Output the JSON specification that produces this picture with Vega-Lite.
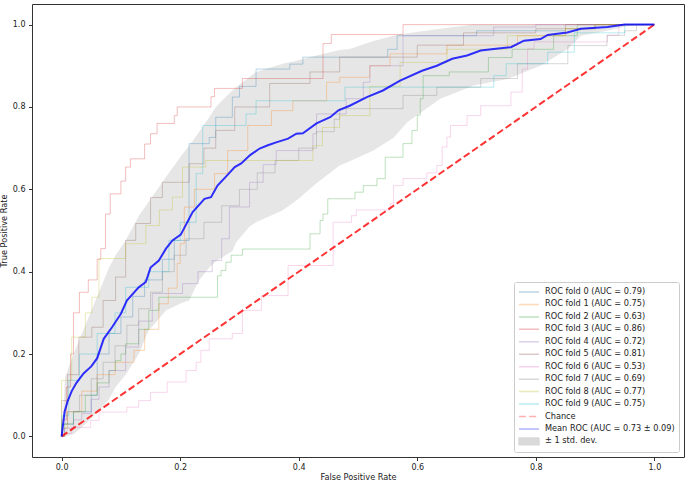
{
  "$schema": "https://vega.github.io/schema/vega-lite/v6.json",
  "autosize": {"type": "none"},
  "padding": {"left": 32, "top": 4, "right": 1, "bottom": 26},
  "width": 652,
  "height": 453,
  "background": "white",
  "config": {
    "view": {"stroke": "#333333", "strokeWidth": 1},
    "font": "DejaVu Sans",
    "axis": {"grid": false, "domain": false, "tickColor": "#333333", "tickSize": 3.5, "labelFontSize": 8, "labelColor": "#222222", "titleFontSize": 8.2, "titleFontWeight": "normal", "titleColor": "#222222", "labelFont": "DejaVu Sans", "titleFont": "DejaVu Sans"}
  },
  "datasets": {
    "band": [
      {"x": 0, "u": 0, "l": 0},
      {"x": 0.006, "u": 0.144, "l": 0},
      {"x": 0.02, "u": 0.2, "l": 0.005},
      {"x": 0.04, "u": 0.27, "l": 0.03},
      {"x": 0.063, "u": 0.35, "l": 0.063},
      {"x": 0.08, "u": 0.41, "l": 0.09},
      {"x": 0.091, "u": 0.44, "l": 0.12},
      {"x": 0.108, "u": 0.476, "l": 0.15},
      {"x": 0.13, "u": 0.535, "l": 0.2},
      {"x": 0.147, "u": 0.57, "l": 0.257},
      {"x": 0.176, "u": 0.63, "l": 0.306},
      {"x": 0.204, "u": 0.686, "l": 0.325},
      {"x": 0.215, "u": 0.705, "l": 0.33},
      {"x": 0.232, "u": 0.74, "l": 0.379},
      {"x": 0.249, "u": 0.775, "l": 0.41},
      {"x": 0.26, "u": 0.8, "l": 0.425},
      {"x": 0.288, "u": 0.84, "l": 0.45},
      {"x": 0.294, "u": 0.848, "l": 0.47},
      {"x": 0.317, "u": 0.873, "l": 0.51},
      {"x": 0.328, "u": 0.885, "l": 0.52},
      {"x": 0.373, "u": 0.905, "l": 0.549},
      {"x": 0.396, "u": 0.912, "l": 0.573},
      {"x": 0.43, "u": 0.925, "l": 0.615},
      {"x": 0.469, "u": 0.938, "l": 0.658},
      {"x": 0.486, "u": 0.941, "l": 0.668},
      {"x": 0.526, "u": 0.96, "l": 0.694},
      {"x": 0.56, "u": 0.973, "l": 0.725},
      {"x": 0.566, "u": 0.975, "l": 0.735},
      {"x": 0.583, "u": 0.979, "l": 0.763},
      {"x": 0.639, "u": 0.99, "l": 0.82},
      {"x": 0.695, "u": 1, "l": 0.852},
      {"x": 0.752, "u": 1, "l": 0.868},
      {"x": 0.808, "u": 1, "l": 0.9},
      {"x": 0.854, "u": 1, "l": 0.941},
      {"x": 0.876, "u": 1, "l": 0.973},
      {"x": 0.92, "u": 1, "l": 0.985},
      {"x": 0.944, "u": 1, "l": 0.993},
      {"x": 0.97, "u": 1, "l": 1},
      {"x": 1, "u": 1, "l": 1}
    ],
    "mean": [
      {"x": 0, "y": 0}, {"x": 0.005, "y": 0.06}, {"x": 0.01, "y": 0.085}, {"x": 0.017, "y": 0.11}, {"x": 0.025, "y": 0.13},
      {"x": 0.037, "y": 0.153}, {"x": 0.05, "y": 0.17}, {"x": 0.06, "y": 0.19}, {"x": 0.071, "y": 0.237}, {"x": 0.085, "y": 0.265},
      {"x": 0.1, "y": 0.298}, {"x": 0.11, "y": 0.33}, {"x": 0.13, "y": 0.362}, {"x": 0.142, "y": 0.375}, {"x": 0.15, "y": 0.41},
      {"x": 0.164, "y": 0.427}, {"x": 0.176, "y": 0.456}, {"x": 0.187, "y": 0.476}, {"x": 0.201, "y": 0.49}, {"x": 0.221, "y": 0.545},
      {"x": 0.241, "y": 0.577}, {"x": 0.252, "y": 0.581}, {"x": 0.263, "y": 0.609}, {"x": 0.28, "y": 0.635}, {"x": 0.292, "y": 0.654},
      {"x": 0.303, "y": 0.663}, {"x": 0.318, "y": 0.683}, {"x": 0.334, "y": 0.699}, {"x": 0.348, "y": 0.707}, {"x": 0.362, "y": 0.714},
      {"x": 0.382, "y": 0.723}, {"x": 0.396, "y": 0.735}, {"x": 0.407, "y": 0.736}, {"x": 0.43, "y": 0.76}, {"x": 0.453, "y": 0.775},
      {"x": 0.467, "y": 0.792}, {"x": 0.486, "y": 0.803}, {"x": 0.515, "y": 0.824}, {"x": 0.542, "y": 0.84}, {"x": 0.571, "y": 0.864},
      {"x": 0.608, "y": 0.888}, {"x": 0.633, "y": 0.9}, {"x": 0.659, "y": 0.917}, {"x": 0.684, "y": 0.925}, {"x": 0.707, "y": 0.937},
      {"x": 0.729, "y": 0.941}, {"x": 0.758, "y": 0.945}, {"x": 0.78, "y": 0.961}, {"x": 0.808, "y": 0.965}, {"x": 0.82, "y": 0.975},
      {"x": 0.853, "y": 0.981}, {"x": 0.876, "y": 0.99}, {"x": 0.921, "y": 0.994}, {"x": 0.95, "y": 1}, {"x": 1, "y": 1}
    ],
    "chance": [{"x": 0, "y": 0}, {"x": 1, "y": 1}],
    "folds": [
      {"f": "ROC fold 0 (AUC = 0.79)", "x": 0, "y": 0}, {"f": "ROC fold 0 (AUC = 0.79)", "x": 0, "y": 0.03}, {"f": "ROC fold 0 (AUC = 0.79)", "x": 0.02, "y": 0.06}, {"f": "ROC fold 0 (AUC = 0.79)", "x": 0.05, "y": 0.1}, {"f": "ROC fold 0 (AUC = 0.79)", "x": 0.06, "y": 0.2}, {"f": "ROC fold 0 (AUC = 0.79)", "x": 0.08, "y": 0.25}, {"f": "ROC fold 0 (AUC = 0.79)", "x": 0.1, "y": 0.29}, {"f": "ROC fold 0 (AUC = 0.79)", "x": 0.12, "y": 0.34}, {"f": "ROC fold 0 (AUC = 0.79)", "x": 0.14, "y": 0.38}, {"f": "ROC fold 0 (AUC = 0.79)", "x": 0.17, "y": 0.43}, {"f": "ROC fold 0 (AUC = 0.79)", "x": 0.19, "y": 0.476}, {"f": "ROC fold 0 (AUC = 0.79)", "x": 0.215, "y": 0.711}, {"f": "ROC fold 0 (AUC = 0.79)", "x": 0.249, "y": 0.726}, {"f": "ROC fold 0 (AUC = 0.79)", "x": 0.26, "y": 0.775}, {"f": "ROC fold 0 (AUC = 0.79)", "x": 0.288, "y": 0.824}, {"f": "ROC fold 0 (AUC = 0.79)", "x": 0.3, "y": 0.85}, {"f": "ROC fold 0 (AUC = 0.79)", "x": 0.328, "y": 0.892}, {"f": "ROC fold 0 (AUC = 0.79)", "x": 0.385, "y": 0.904}, {"f": "ROC fold 0 (AUC = 0.79)", "x": 0.407, "y": 0.921}, {"f": "ROC fold 0 (AUC = 0.79)", "x": 0.55, "y": 0.94}, {"f": "ROC fold 0 (AUC = 0.79)", "x": 0.566, "y": 0.973}, {"f": "ROC fold 0 (AUC = 0.79)", "x": 0.7, "y": 0.985}, {"f": "ROC fold 0 (AUC = 0.79)", "x": 0.85, "y": 0.99}, {"f": "ROC fold 0 (AUC = 0.79)", "x": 0.9, "y": 1}, {"f": "ROC fold 0 (AUC = 0.79)", "x": 1, "y": 1},
      {"f": "ROC fold 1 (AUC = 0.75)", "x": 0, "y": 0}, {"f": "ROC fold 1 (AUC = 0.75)", "x": 0, "y": 0.02}, {"f": "ROC fold 1 (AUC = 0.75)", "x": 0.01, "y": 0.06}, {"f": "ROC fold 1 (AUC = 0.75)", "x": 0.034, "y": 0.11}, {"f": "ROC fold 1 (AUC = 0.75)", "x": 0.06, "y": 0.15}, {"f": "ROC fold 1 (AUC = 0.75)", "x": 0.09, "y": 0.18}, {"f": "ROC fold 1 (AUC = 0.75)", "x": 0.122, "y": 0.209}, {"f": "ROC fold 1 (AUC = 0.75)", "x": 0.14, "y": 0.26}, {"f": "ROC fold 1 (AUC = 0.75)", "x": 0.164, "y": 0.322}, {"f": "ROC fold 1 (AUC = 0.75)", "x": 0.18, "y": 0.36}, {"f": "ROC fold 1 (AUC = 0.75)", "x": 0.195, "y": 0.42}, {"f": "ROC fold 1 (AUC = 0.75)", "x": 0.2, "y": 0.468}, {"f": "ROC fold 1 (AUC = 0.75)", "x": 0.207, "y": 0.557}, {"f": "ROC fold 1 (AUC = 0.75)", "x": 0.224, "y": 0.6}, {"f": "ROC fold 1 (AUC = 0.75)", "x": 0.258, "y": 0.638}, {"f": "ROC fold 1 (AUC = 0.75)", "x": 0.28, "y": 0.694}, {"f": "ROC fold 1 (AUC = 0.75)", "x": 0.314, "y": 0.755}, {"f": "ROC fold 1 (AUC = 0.75)", "x": 0.354, "y": 0.791}, {"f": "ROC fold 1 (AUC = 0.75)", "x": 0.39, "y": 0.815}, {"f": "ROC fold 1 (AUC = 0.75)", "x": 0.447, "y": 0.86}, {"f": "ROC fold 1 (AUC = 0.75)", "x": 0.469, "y": 0.872}, {"f": "ROC fold 1 (AUC = 0.75)", "x": 0.52, "y": 0.9}, {"f": "ROC fold 1 (AUC = 0.75)", "x": 0.554, "y": 0.929}, {"f": "ROC fold 1 (AUC = 0.75)", "x": 0.65, "y": 0.95}, {"f": "ROC fold 1 (AUC = 0.75)", "x": 0.769, "y": 0.973}, {"f": "ROC fold 1 (AUC = 0.75)", "x": 0.85, "y": 0.99}, {"f": "ROC fold 1 (AUC = 0.75)", "x": 0.9, "y": 1}, {"f": "ROC fold 1 (AUC = 0.75)", "x": 1, "y": 1},
      {"f": "ROC fold 2 (AUC = 0.63)", "x": 0, "y": 0}, {"f": "ROC fold 2 (AUC = 0.63)", "x": 0.005, "y": 0.03}, {"f": "ROC fold 2 (AUC = 0.63)", "x": 0.02, "y": 0.06}, {"f": "ROC fold 2 (AUC = 0.63)", "x": 0.04, "y": 0.1}, {"f": "ROC fold 2 (AUC = 0.63)", "x": 0.06, "y": 0.13}, {"f": "ROC fold 2 (AUC = 0.63)", "x": 0.08, "y": 0.16}, {"f": "ROC fold 2 (AUC = 0.63)", "x": 0.091, "y": 0.184}, {"f": "ROC fold 2 (AUC = 0.63)", "x": 0.1, "y": 0.2}, {"f": "ROC fold 2 (AUC = 0.63)", "x": 0.108, "y": 0.225}, {"f": "ROC fold 2 (AUC = 0.63)", "x": 0.13, "y": 0.26}, {"f": "ROC fold 2 (AUC = 0.63)", "x": 0.147, "y": 0.306}, {"f": "ROC fold 2 (AUC = 0.63)", "x": 0.164, "y": 0.338}, {"f": "ROC fold 2 (AUC = 0.63)", "x": 0.263, "y": 0.39}, {"f": "ROC fold 2 (AUC = 0.63)", "x": 0.269, "y": 0.403}, {"f": "ROC fold 2 (AUC = 0.63)", "x": 0.277, "y": 0.423}, {"f": "ROC fold 2 (AUC = 0.63)", "x": 0.286, "y": 0.44}, {"f": "ROC fold 2 (AUC = 0.63)", "x": 0.305, "y": 0.455}, {"f": "ROC fold 2 (AUC = 0.63)", "x": 0.419, "y": 0.492}, {"f": "ROC fold 2 (AUC = 0.63)", "x": 0.436, "y": 0.524}, {"f": "ROC fold 2 (AUC = 0.63)", "x": 0.441, "y": 0.54}, {"f": "ROC fold 2 (AUC = 0.63)", "x": 0.449, "y": 0.577}, {"f": "ROC fold 2 (AUC = 0.63)", "x": 0.495, "y": 0.593}, {"f": "ROC fold 2 (AUC = 0.63)", "x": 0.509, "y": 0.609}, {"f": "ROC fold 2 (AUC = 0.63)", "x": 0.532, "y": 0.626}, {"f": "ROC fold 2 (AUC = 0.63)", "x": 0.546, "y": 0.678}, {"f": "ROC fold 2 (AUC = 0.63)", "x": 0.576, "y": 0.711}, {"f": "ROC fold 2 (AUC = 0.63)", "x": 0.591, "y": 0.743}, {"f": "ROC fold 2 (AUC = 0.63)", "x": 0.6, "y": 0.78}, {"f": "ROC fold 2 (AUC = 0.63)", "x": 0.605, "y": 0.82}, {"f": "ROC fold 2 (AUC = 0.63)", "x": 0.61, "y": 0.876}, {"f": "ROC fold 2 (AUC = 0.63)", "x": 0.654, "y": 0.885}, {"f": "ROC fold 2 (AUC = 0.63)", "x": 0.72, "y": 0.92}, {"f": "ROC fold 2 (AUC = 0.63)", "x": 0.76, "y": 0.94}, {"f": "ROC fold 2 (AUC = 0.63)", "x": 0.83, "y": 0.973}, {"f": "ROC fold 2 (AUC = 0.63)", "x": 0.87, "y": 1}, {"f": "ROC fold 2 (AUC = 0.63)", "x": 1, "y": 1},
      {"f": "ROC fold 3 (AUC = 0.86)", "x": 0, "y": 0}, {"f": "ROC fold 3 (AUC = 0.86)", "x": 0, "y": 0.04}, {"f": "ROC fold 3 (AUC = 0.86)", "x": 0.008, "y": 0.12}, {"f": "ROC fold 3 (AUC = 0.86)", "x": 0.015, "y": 0.2}, {"f": "ROC fold 3 (AUC = 0.86)", "x": 0.02, "y": 0.3}, {"f": "ROC fold 3 (AUC = 0.86)", "x": 0.03, "y": 0.35}, {"f": "ROC fold 3 (AUC = 0.86)", "x": 0.045, "y": 0.38}, {"f": "ROC fold 3 (AUC = 0.86)", "x": 0.06, "y": 0.43}, {"f": "ROC fold 3 (AUC = 0.86)", "x": 0.066, "y": 0.456}, {"f": "ROC fold 3 (AUC = 0.86)", "x": 0.074, "y": 0.54}, {"f": "ROC fold 3 (AUC = 0.86)", "x": 0.082, "y": 0.589}, {"f": "ROC fold 3 (AUC = 0.86)", "x": 0.1, "y": 0.62}, {"f": "ROC fold 3 (AUC = 0.86)", "x": 0.108, "y": 0.654}, {"f": "ROC fold 3 (AUC = 0.86)", "x": 0.116, "y": 0.674}, {"f": "ROC fold 3 (AUC = 0.86)", "x": 0.14, "y": 0.71}, {"f": "ROC fold 3 (AUC = 0.86)", "x": 0.15, "y": 0.735}, {"f": "ROC fold 3 (AUC = 0.86)", "x": 0.161, "y": 0.76}, {"f": "ROC fold 3 (AUC = 0.86)", "x": 0.19, "y": 0.779}, {"f": "ROC fold 3 (AUC = 0.86)", "x": 0.195, "y": 0.8}, {"f": "ROC fold 3 (AUC = 0.86)", "x": 0.252, "y": 0.825}, {"f": "ROC fold 3 (AUC = 0.86)", "x": 0.258, "y": 0.845}, {"f": "ROC fold 3 (AUC = 0.86)", "x": 0.305, "y": 0.869}, {"f": "ROC fold 3 (AUC = 0.86)", "x": 0.441, "y": 0.954}, {"f": "ROC fold 3 (AUC = 0.86)", "x": 0.455, "y": 0.976}, {"f": "ROC fold 3 (AUC = 0.86)", "x": 0.576, "y": 1}, {"f": "ROC fold 3 (AUC = 0.86)", "x": 1, "y": 1},
      {"f": "ROC fold 4 (AUC = 0.72)", "x": 0, "y": 0}, {"f": "ROC fold 4 (AUC = 0.72)", "x": 0.005, "y": 0.02}, {"f": "ROC fold 4 (AUC = 0.72)", "x": 0.02, "y": 0.04}, {"f": "ROC fold 4 (AUC = 0.72)", "x": 0.034, "y": 0.056}, {"f": "ROC fold 4 (AUC = 0.72)", "x": 0.05, "y": 0.09}, {"f": "ROC fold 4 (AUC = 0.72)", "x": 0.063, "y": 0.12}, {"f": "ROC fold 4 (AUC = 0.72)", "x": 0.08, "y": 0.16}, {"f": "ROC fold 4 (AUC = 0.72)", "x": 0.108, "y": 0.217}, {"f": "ROC fold 4 (AUC = 0.72)", "x": 0.13, "y": 0.28}, {"f": "ROC fold 4 (AUC = 0.72)", "x": 0.153, "y": 0.347}, {"f": "ROC fold 4 (AUC = 0.72)", "x": 0.204, "y": 0.371}, {"f": "ROC fold 4 (AUC = 0.72)", "x": 0.23, "y": 0.4}, {"f": "ROC fold 4 (AUC = 0.72)", "x": 0.254, "y": 0.427}, {"f": "ROC fold 4 (AUC = 0.72)", "x": 0.27, "y": 0.48}, {"f": "ROC fold 4 (AUC = 0.72)", "x": 0.283, "y": 0.557}, {"f": "ROC fold 4 (AUC = 0.72)", "x": 0.317, "y": 0.617}, {"f": "ROC fold 4 (AUC = 0.72)", "x": 0.34, "y": 0.66}, {"f": "ROC fold 4 (AUC = 0.72)", "x": 0.362, "y": 0.694}, {"f": "ROC fold 4 (AUC = 0.72)", "x": 0.424, "y": 0.735}, {"f": "ROC fold 4 (AUC = 0.72)", "x": 0.43, "y": 0.783}, {"f": "ROC fold 4 (AUC = 0.72)", "x": 0.48, "y": 0.82}, {"f": "ROC fold 4 (AUC = 0.72)", "x": 0.509, "y": 0.86}, {"f": "ROC fold 4 (AUC = 0.72)", "x": 0.52, "y": 0.9}, {"f": "ROC fold 4 (AUC = 0.72)", "x": 0.576, "y": 0.973}, {"f": "ROC fold 4 (AUC = 0.72)", "x": 0.729, "y": 0.994}, {"f": "ROC fold 4 (AUC = 0.72)", "x": 0.8, "y": 1}, {"f": "ROC fold 4 (AUC = 0.72)", "x": 1, "y": 1},
      {"f": "ROC fold 5 (AUC = 0.81)", "x": 0, "y": 0}, {"f": "ROC fold 5 (AUC = 0.81)", "x": 0, "y": 0.087}, {"f": "ROC fold 5 (AUC = 0.81)", "x": 0.01, "y": 0.15}, {"f": "ROC fold 5 (AUC = 0.81)", "x": 0.029, "y": 0.241}, {"f": "ROC fold 5 (AUC = 0.81)", "x": 0.051, "y": 0.265}, {"f": "ROC fold 5 (AUC = 0.81)", "x": 0.07, "y": 0.33}, {"f": "ROC fold 5 (AUC = 0.81)", "x": 0.091, "y": 0.387}, {"f": "ROC fold 5 (AUC = 0.81)", "x": 0.108, "y": 0.476}, {"f": "ROC fold 5 (AUC = 0.81)", "x": 0.125, "y": 0.517}, {"f": "ROC fold 5 (AUC = 0.81)", "x": 0.15, "y": 0.58}, {"f": "ROC fold 5 (AUC = 0.81)", "x": 0.17, "y": 0.617}, {"f": "ROC fold 5 (AUC = 0.81)", "x": 0.215, "y": 0.662}, {"f": "ROC fold 5 (AUC = 0.81)", "x": 0.24, "y": 0.7}, {"f": "ROC fold 5 (AUC = 0.81)", "x": 0.26, "y": 0.743}, {"f": "ROC fold 5 (AUC = 0.81)", "x": 0.292, "y": 0.8}, {"f": "ROC fold 5 (AUC = 0.81)", "x": 0.351, "y": 0.857}, {"f": "ROC fold 5 (AUC = 0.81)", "x": 0.419, "y": 0.885}, {"f": "ROC fold 5 (AUC = 0.81)", "x": 0.469, "y": 0.921}, {"f": "ROC fold 5 (AUC = 0.81)", "x": 0.6, "y": 0.95}, {"f": "ROC fold 5 (AUC = 0.81)", "x": 0.678, "y": 0.98}, {"f": "ROC fold 5 (AUC = 0.81)", "x": 0.8, "y": 0.99}, {"f": "ROC fold 5 (AUC = 0.81)", "x": 0.85, "y": 1}, {"f": "ROC fold 5 (AUC = 0.81)", "x": 1, "y": 1},
      {"f": "ROC fold 6 (AUC = 0.53)", "x": 0, "y": 0}, {"f": "ROC fold 6 (AUC = 0.53)", "x": 0, "y": 0.007}, {"f": "ROC fold 6 (AUC = 0.53)", "x": 0.017, "y": 0.022}, {"f": "ROC fold 6 (AUC = 0.53)", "x": 0.049, "y": 0.039}, {"f": "ROC fold 6 (AUC = 0.53)", "x": 0.063, "y": 0.059}, {"f": "ROC fold 6 (AUC = 0.53)", "x": 0.11, "y": 0.071}, {"f": "ROC fold 6 (AUC = 0.53)", "x": 0.13, "y": 0.087}, {"f": "ROC fold 6 (AUC = 0.53)", "x": 0.15, "y": 0.107}, {"f": "ROC fold 6 (AUC = 0.53)", "x": 0.178, "y": 0.132}, {"f": "ROC fold 6 (AUC = 0.53)", "x": 0.21, "y": 0.16}, {"f": "ROC fold 6 (AUC = 0.53)", "x": 0.227, "y": 0.18}, {"f": "ROC fold 6 (AUC = 0.53)", "x": 0.235, "y": 0.209}, {"f": "ROC fold 6 (AUC = 0.53)", "x": 0.249, "y": 0.237}, {"f": "ROC fold 6 (AUC = 0.53)", "x": 0.288, "y": 0.25}, {"f": "ROC fold 6 (AUC = 0.53)", "x": 0.305, "y": 0.306}, {"f": "ROC fold 6 (AUC = 0.53)", "x": 0.337, "y": 0.342}, {"f": "ROC fold 6 (AUC = 0.53)", "x": 0.382, "y": 0.415}, {"f": "ROC fold 6 (AUC = 0.53)", "x": 0.458, "y": 0.52}, {"f": "ROC fold 6 (AUC = 0.53)", "x": 0.489, "y": 0.536}, {"f": "ROC fold 6 (AUC = 0.53)", "x": 0.497, "y": 0.55}, {"f": "ROC fold 6 (AUC = 0.53)", "x": 0.554, "y": 0.565}, {"f": "ROC fold 6 (AUC = 0.53)", "x": 0.56, "y": 0.609}, {"f": "ROC fold 6 (AUC = 0.53)", "x": 0.576, "y": 0.626}, {"f": "ROC fold 6 (AUC = 0.53)", "x": 0.616, "y": 0.64}, {"f": "ROC fold 6 (AUC = 0.53)", "x": 0.633, "y": 0.658}, {"f": "ROC fold 6 (AUC = 0.53)", "x": 0.642, "y": 0.703}, {"f": "ROC fold 6 (AUC = 0.53)", "x": 0.65, "y": 0.727}, {"f": "ROC fold 6 (AUC = 0.53)", "x": 0.656, "y": 0.755}, {"f": "ROC fold 6 (AUC = 0.53)", "x": 0.684, "y": 0.779}, {"f": "ROC fold 6 (AUC = 0.53)", "x": 0.707, "y": 0.803}, {"f": "ROC fold 6 (AUC = 0.53)", "x": 0.758, "y": 0.836}, {"f": "ROC fold 6 (AUC = 0.53)", "x": 0.777, "y": 0.892}, {"f": "ROC fold 6 (AUC = 0.53)", "x": 0.786, "y": 0.941}, {"f": "ROC fold 6 (AUC = 0.53)", "x": 0.797, "y": 0.958}, {"f": "ROC fold 6 (AUC = 0.53)", "x": 0.921, "y": 0.974}, {"f": "ROC fold 6 (AUC = 0.53)", "x": 0.94, "y": 1}, {"f": "ROC fold 6 (AUC = 0.53)", "x": 1, "y": 1},
      {"f": "ROC fold 7 (AUC = 0.69)", "x": 0, "y": 0}, {"f": "ROC fold 7 (AUC = 0.69)", "x": 0, "y": 0.03}, {"f": "ROC fold 7 (AUC = 0.69)", "x": 0.01, "y": 0.06}, {"f": "ROC fold 7 (AUC = 0.69)", "x": 0.03, "y": 0.1}, {"f": "ROC fold 7 (AUC = 0.69)", "x": 0.05, "y": 0.14}, {"f": "ROC fold 7 (AUC = 0.69)", "x": 0.07, "y": 0.18}, {"f": "ROC fold 7 (AUC = 0.69)", "x": 0.09, "y": 0.22}, {"f": "ROC fold 7 (AUC = 0.69)", "x": 0.11, "y": 0.27}, {"f": "ROC fold 7 (AUC = 0.69)", "x": 0.13, "y": 0.31}, {"f": "ROC fold 7 (AUC = 0.69)", "x": 0.15, "y": 0.35}, {"f": "ROC fold 7 (AUC = 0.69)", "x": 0.17, "y": 0.4}, {"f": "ROC fold 7 (AUC = 0.69)", "x": 0.19, "y": 0.44}, {"f": "ROC fold 7 (AUC = 0.69)", "x": 0.21, "y": 0.48}, {"f": "ROC fold 7 (AUC = 0.69)", "x": 0.24, "y": 0.52}, {"f": "ROC fold 7 (AUC = 0.69)", "x": 0.27, "y": 0.56}, {"f": "ROC fold 7 (AUC = 0.69)", "x": 0.3, "y": 0.6}, {"f": "ROC fold 7 (AUC = 0.69)", "x": 0.33, "y": 0.64}, {"f": "ROC fold 7 (AUC = 0.69)", "x": 0.36, "y": 0.67}, {"f": "ROC fold 7 (AUC = 0.69)", "x": 0.4, "y": 0.7}, {"f": "ROC fold 7 (AUC = 0.69)", "x": 0.43, "y": 0.74}, {"f": "ROC fold 7 (AUC = 0.69)", "x": 0.46, "y": 0.77}, {"f": "ROC fold 7 (AUC = 0.69)", "x": 0.469, "y": 0.796}, {"f": "ROC fold 7 (AUC = 0.69)", "x": 0.576, "y": 0.828}, {"f": "ROC fold 7 (AUC = 0.69)", "x": 0.633, "y": 0.848}, {"f": "ROC fold 7 (AUC = 0.69)", "x": 0.707, "y": 0.869}, {"f": "ROC fold 7 (AUC = 0.69)", "x": 0.769, "y": 0.905}, {"f": "ROC fold 7 (AUC = 0.69)", "x": 0.854, "y": 0.949}, {"f": "ROC fold 7 (AUC = 0.69)", "x": 0.92, "y": 0.974}, {"f": "ROC fold 7 (AUC = 0.69)", "x": 0.95, "y": 0.985}, {"f": "ROC fold 7 (AUC = 0.69)", "x": 0.97, "y": 1}, {"f": "ROC fold 7 (AUC = 0.69)", "x": 1, "y": 1},
      {"f": "ROC fold 8 (AUC = 0.77)", "x": 0, "y": 0}, {"f": "ROC fold 8 (AUC = 0.77)", "x": 0, "y": 0.136}, {"f": "ROC fold 8 (AUC = 0.77)", "x": 0.017, "y": 0.241}, {"f": "ROC fold 8 (AUC = 0.77)", "x": 0.04, "y": 0.3}, {"f": "ROC fold 8 (AUC = 0.77)", "x": 0.051, "y": 0.338}, {"f": "ROC fold 8 (AUC = 0.77)", "x": 0.063, "y": 0.432}, {"f": "ROC fold 8 (AUC = 0.77)", "x": 0.108, "y": 0.468}, {"f": "ROC fold 8 (AUC = 0.77)", "x": 0.142, "y": 0.512}, {"f": "ROC fold 8 (AUC = 0.77)", "x": 0.165, "y": 0.55}, {"f": "ROC fold 8 (AUC = 0.77)", "x": 0.187, "y": 0.581}, {"f": "ROC fold 8 (AUC = 0.77)", "x": 0.204, "y": 0.654}, {"f": "ROC fold 8 (AUC = 0.77)", "x": 0.243, "y": 0.67}, {"f": "ROC fold 8 (AUC = 0.77)", "x": 0.424, "y": 0.706}, {"f": "ROC fold 8 (AUC = 0.77)", "x": 0.44, "y": 0.75}, {"f": "ROC fold 8 (AUC = 0.77)", "x": 0.469, "y": 0.779}, {"f": "ROC fold 8 (AUC = 0.77)", "x": 0.52, "y": 0.85}, {"f": "ROC fold 8 (AUC = 0.77)", "x": 0.571, "y": 0.908}, {"f": "ROC fold 8 (AUC = 0.77)", "x": 0.65, "y": 0.94}, {"f": "ROC fold 8 (AUC = 0.77)", "x": 0.752, "y": 0.973}, {"f": "ROC fold 8 (AUC = 0.77)", "x": 0.85, "y": 0.99}, {"f": "ROC fold 8 (AUC = 0.77)", "x": 0.9, "y": 1}, {"f": "ROC fold 8 (AUC = 0.77)", "x": 1, "y": 1},
      {"f": "ROC fold 9 (AUC = 0.75)", "x": 0, "y": 0}, {"f": "ROC fold 9 (AUC = 0.75)", "x": 0, "y": 0.05}, {"f": "ROC fold 9 (AUC = 0.75)", "x": 0.012, "y": 0.136}, {"f": "ROC fold 9 (AUC = 0.75)", "x": 0.03, "y": 0.2}, {"f": "ROC fold 9 (AUC = 0.75)", "x": 0.06, "y": 0.25}, {"f": "ROC fold 9 (AUC = 0.75)", "x": 0.09, "y": 0.3}, {"f": "ROC fold 9 (AUC = 0.75)", "x": 0.108, "y": 0.362}, {"f": "ROC fold 9 (AUC = 0.75)", "x": 0.147, "y": 0.4}, {"f": "ROC fold 9 (AUC = 0.75)", "x": 0.181, "y": 0.476}, {"f": "ROC fold 9 (AUC = 0.75)", "x": 0.2, "y": 0.52}, {"f": "ROC fold 9 (AUC = 0.75)", "x": 0.227, "y": 0.638}, {"f": "ROC fold 9 (AUC = 0.75)", "x": 0.238, "y": 0.755}, {"f": "ROC fold 9 (AUC = 0.75)", "x": 0.311, "y": 0.783}, {"f": "ROC fold 9 (AUC = 0.75)", "x": 0.328, "y": 0.815}, {"f": "ROC fold 9 (AUC = 0.75)", "x": 0.478, "y": 0.848}, {"f": "ROC fold 9 (AUC = 0.75)", "x": 0.729, "y": 0.876}, {"f": "ROC fold 9 (AUC = 0.75)", "x": 0.75, "y": 0.905}, {"f": "ROC fold 9 (AUC = 0.75)", "x": 0.82, "y": 0.933}, {"f": "ROC fold 9 (AUC = 0.75)", "x": 0.865, "y": 0.98}, {"f": "ROC fold 9 (AUC = 0.75)", "x": 0.95, "y": 1}, {"f": "ROC fold 9 (AUC = 0.75)", "x": 1, "y": 1}
    ]
  },
  "layer": [
    {
      "data": {"name": "band"},
      "mark": {"type": "area", "opacity": 0.2, "interpolate": "linear"},
      "encoding": {
        "x": {"field": "x", "type": "quantitative", "scale": {"domain": [-0.05, 1.05], "nice": false, "zero": false}, "axis": {"values": [0, 0.2, 0.4, 0.6, 0.8, 1], "format": ".1f", "title": "False Positive Rate", "labelPadding": 2.5, "titlePadding": 2.5}},
        "y": {"field": "u", "type": "quantitative", "scale": {"domain": [-0.05, 1.05], "nice": false, "zero": false}, "axis": {"values": [0, 0.2, 0.4, 0.6, 0.8, 1], "format": ".1f", "title": "True Positive Rate", "labelPadding": 3.5, "titlePadding": 4}},
        "y2": {"field": "l"},
        "color": {
          "datum": "± 1 std. dev.",
          "type": "nominal",
          "title": null,
          "scale": {
            "domain": ["ROC fold 0 (AUC = 0.79)", "ROC fold 1 (AUC = 0.75)", "ROC fold 2 (AUC = 0.63)", "ROC fold 3 (AUC = 0.86)", "ROC fold 4 (AUC = 0.72)", "ROC fold 5 (AUC = 0.81)", "ROC fold 6 (AUC = 0.53)", "ROC fold 7 (AUC = 0.69)", "ROC fold 8 (AUC = 0.77)", "ROC fold 9 (AUC = 0.75)", "Chance", "Mean ROC (AUC = 0.73 ± 0.09)", "± 1 std. dev."],
            "range": ["#1f77b4", "#ff7f0e", "#2ca02c", "#d62728", "#9467bd", "#8c564b", "#e377c2", "#7f7f7f", "#bcbd22", "#17becf", "#ff0000", "#0000ff", "#808080"]
          },
          "legend": {
            "title": null,
            "orient": "bottom-right",
            "offset": 5,
            "symbolType": {"expr": "datum.value === '± 1 std. dev.' ? 'M-1,-0.33H1V0.33H-1Z' : 'stroke'"},
            "symbolSize": 400,
            "symbolStrokeWidth": 1.5,
            "symbolDash": {"expr": "datum.value === 'Chance' ? [7, 3.2] : [1, 0]"},
            "symbolOpacity": {"expr": "datum.value === '± 1 std. dev.' ? 0.2 : ((datum.value === 'Chance' || datum.value === 'Mean ROC (AUC = 0.73 ± 0.09)') ? 0.8 : 0.3)"},
            "symbolFillColor": {"expr": "datum.value === '± 1 std. dev.' ? '#808080' : 'transparent'"},
            "clipHeight": 12,
            "rowPadding": 0.45,
            "padding": 4,
            "labelFont": "DejaVu Sans",
            "labelFontSize": 8.2,
            "labelColor": "#222222",
            "labelLimit": 300,
            "labelOffset": 5,
            "strokeColor": "#cccccc",
            "fillColor": "rgba(255,255,255,0.8)",
            "cornerRadius": 2
          }
        }
      }
    },
    {
      "data": {"name": "folds"},
      "mark": {"type": "line", "strokeWidth": 1, "opacity": 0.3, "interpolate": "step-after"},
      "encoding": {
        "x": {"field": "x", "type": "quantitative"},
        "y": {"field": "y", "type": "quantitative"},
        "order": [{"field": "x", "type": "quantitative"}, {"field": "y", "type": "quantitative"}],
        "color": {"field": "f", "type": "nominal", "title": null}
      }
    },
    {
      "data": {"name": "chance"},
      "mark": {"type": "line", "strokeWidth": 2, "opacity": 0.8, "strokeDash": [7, 3.2]},
      "encoding": {
        "x": {"field": "x", "type": "quantitative"},
        "y": {"field": "y", "type": "quantitative"},
        "color": {"datum": "Chance"}
      }
    },
    {
      "data": {"name": "mean"},
      "mark": {"type": "line", "strokeWidth": 2, "opacity": 0.8},
      "encoding": {
        "x": {"field": "x", "type": "quantitative"},
        "y": {"field": "y", "type": "quantitative"},
        "color": {"datum": "Mean ROC (AUC = 0.73 ± 0.09)"}
      }
    }
  ]
}
